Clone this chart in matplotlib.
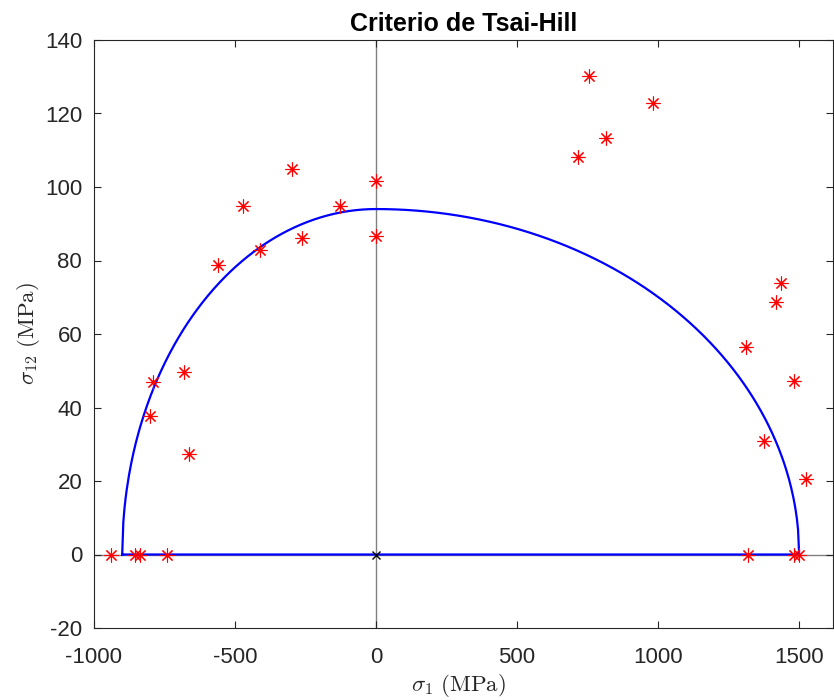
import numpy as np
import matplotlib
matplotlib.use("Agg")
import matplotlib.pyplot as plt

# resistencias del material (MPa)
Xt = 1500.0
Xc = 900.0
S = 94.0

# ensayos (sigma_1, sigma_12) en MPa
s1_test = [-940, -855, -837, -740, 1317, 1480, 1500,
           -801, -792, -681, -662, -560, -472, -413, -299, -262, -127, 0, 0,
           716, 756, 815, 983, 1310, 1376, 1417, 1434, 1481, 1523]
s12_test = [0, 0, 0, 0, 0, 0, 0,
            37.6, 46.9, 49.7, 27.3, 78.8, 94.9, 82.9, 104.9, 86.0, 94.9, 101.7, 86.6,
            108.1, 130.3, 113.3, 122.8, 56.5, 31.0, 68.6, 73.9, 47.1, 20.5]

# envolvente de Tsai-Hill: (s1/X)^2 + (s12/S)^2 = 1
s1_env = np.linspace(-Xc, Xt, 600)
X = np.where(s1_env < 0, Xc, Xt)
s12_env = S * np.sqrt(np.clip(1 - (s1_env / X) ** 2, 0, None))
s1_env = np.append(s1_env, -Xc)
s12_env = np.append(s12_env, 0)

plt.rcParams['font.family'] = ['Liberation Sans', 'DejaVu Sans']
plt.rcParams['mathtext.fontset'] = 'cm'
plt.rcParams['axes.unicode_minus'] = False

fig = plt.figure(figsize=(8.34, 7.0), dpi=100)
ax = fig.add_axes([94 / 834, 72 / 700, 739 / 834, 588 / 700])

ax.axhline(0, color='#808080', lw=1.0, zorder=1)
ax.axvline(0, color='#808080', lw=1.0, zorder=1)
ax.plot(s1_env, s12_env, color='#0000ff', lw=1.6, zorder=2)
ax.plot(s1_test, s12_test, ls='none', marker=(8, 2, 0), ms=10, mew=0.8,
        color='#ff0000', zorder=3)
ax.plot([0], [0], ls='none', marker='x', ms=6, mew=1.0, color='black', zorder=4)

ax.set_xlim(-1000, 1620)
ax.set_ylim(-20, 140)
ax.set_xticks([-1000, -500, 0, 500, 1000, 1500])
ax.set_yticks(np.arange(-20, 141, 20))
ax.tick_params(direction='in', top=True, right=True, length=5, width=0.8,
               labelsize=16, colors='#262626')
ax.tick_params(axis='x', pad=14)
ax.tick_params(axis='y', pad=8.5)
for sp in ax.spines.values():
    sp.set_color('#262626')
    sp.set_linewidth(0.8)

ax.set_title('Criterio de Tsai-Hill', fontsize=18, fontweight='bold', pad=6.7)
ax.set_xlabel(r'$\sigma_1\ \mathrm{(MPa)}$', fontsize=16.5, color='#262626')
ax.set_ylabel(r'$\sigma_{12}\ \mathrm{(MPa)}$', fontsize=16.5, color='#262626')
ax.xaxis.set_label_coords(0.5 - 5 / 739, -44 / 588)
ax.yaxis.set_label_coords(-52 / 739, 0.5)

fig.savefig('out.png', dpi=100)
